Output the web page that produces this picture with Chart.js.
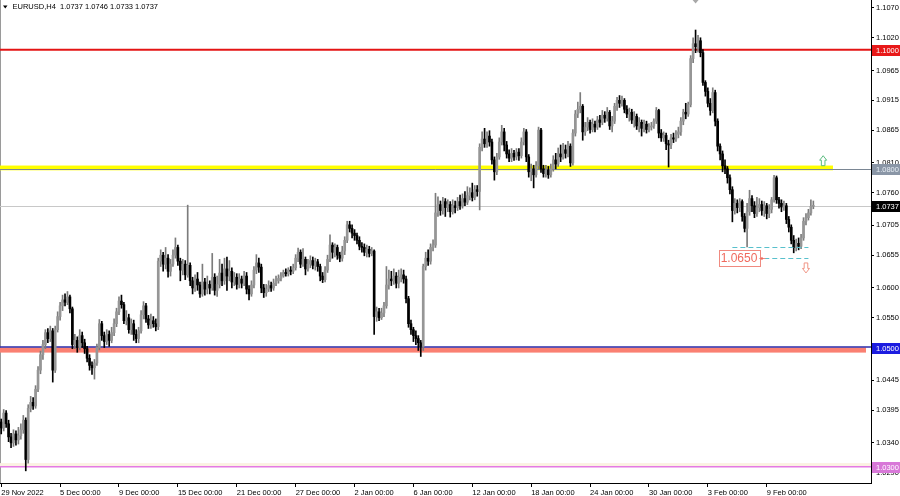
<!DOCTYPE html>
<html><head><meta charset="utf-8">
<script src="https://cdn.jsdelivr.net/npm/chart.js@4.4.1/dist/chart.umd.min.js"></script>
<style>html,body{margin:0;padding:0;background:#fff;overflow:hidden}</style>
</head><body><canvas id="c" width="900" height="496"></canvas>
<script>
// EURUSD H4 candles, values in pips above 1.0000 (price = 1 + pips / 10000)
const opens = [375,365,390,372,350,340,355,345,352,362,378,312,398,408,402,430,462,488,505,525,515,528,462,530,552,570,580,576,585,565,505,512,500,520,508,498,482,470,466,474,500,540,520,510,522,512,525,540,560,578,572,545,550,530,540,522,515,528,555,570,548,538,545,540,535,645,655,640,650,628,640,655,668,645,630,640,622,638,612,600,615,605,590,610,598,606,600,618,596,606,625,612,632,620,628,610,618,606,615,608,620,598,590,605,630,642,635,600,592,598,604,600,608,612,616,620,626,624,630,628,634,650,660,640,648,632,640,646,638,644,636,620,614,630,648,672,660,668,655,650,662,680,706,700,692,688,680,670,668,660,665,658,662,552,560,550,558,570,605,615,612,620,608,618,622,615,582,540,530,520,515,508,502,636,650,645,668,672,726,740,730,745,735,740,728,738,735,745,738,750,744,755,760,752,765,762,836,850,842,855,845,815,795,820,845,862,840,825,818,826,820,828,822,845,862,820,795,800,790,805,865,800,792,798,790,800,815,808,825,820,832,826,838,810,860,892,900,905,862,870,878,866,875,870,882,878,890,885,895,872,880,905,915,910,915,900,892,895,882,888,872,878,868,875,866,870,872,880,898,860,852,856,842,840,852,850,858,862,880,895,892,908,985,1010,1005,1015,995,945,930,910,898,928,880,838,825,805,800,785,765,730,742,735,745,720,700,728,750,738,725,735,740,730,738,725,732,748,785,748,742,736,738,715,702,680,668,675,670,684,712,718,726,737];
const highs = [380,396,394,378,356,362,360,366,372,386,382,404,418,416,436,468,494,512,530,532,536,532,536,560,576,588,590,594,588,568,522,518,530,526,514,502,488,476,480,506,547,544,526,530,528,534,548,566,585,588,576,562,556,548,546,530,534,562,577,574,554,556,552,548,650,664,660,668,656,648,664,684,672,650,648,646,739,642,618,622,626,610,640,616,620,612,658,624,620,648,640,650,652,646,634,626,624,624,620,628,626,604,612,636,656,650,640,606,606,612,610,615,620,622,626,630,632,634,636,640,656,667,664,666,652,648,654,652,650,648,640,626,636,655,689,676,674,672,660,670,686,712,712,706,698,692,686,676,674,672,670,668,664,568,566,566,576,636,630,628,632,626,630,632,630,620,586,546,534,528,520,512,640,660,664,674,681,759,753,746,752,750,748,745,748,746,752,756,758,762,770,768,776,772,772,842,862,868,862,864,850,820,826,852,873,868,846,832,834,831,834,834,852,868,866,824,808,806,812,870,868,806,806,804,808,822,826,835,840,843,840,846,842,866,898,912,928,908,878,886,882,884,880,888,890,898,896,903,898,888,910,920,923,922,918,906,902,900,896,892,886,882,882,880,876,878,884,903,900,866,862,860,848,858,860,864,870,886,900,910,912,990,1020,1033,1024,1020,1000,948,936,918,936,932,884,842,830,815,804,790,770,750,748,750,748,725,742,764,755,745,752,750,746,745,742,740,752,789,788,752,748,746,742,720,706,688,682,684,690,718,725,732,748,746];
const lows = [355,360,366,342,332,334,336,338,346,356,293,306,392,396,398,426,456,480,498,508,510,442,458,526,546,562,570,572,558,498,498,492,496,500,490,476,462,455,447,470,496,512,500,505,502,508,520,535,555,566,540,538,524,522,512,508,508,524,548,542,532,532,534,528,530,636,628,632,618,620,636,650,638,612,622,614,618,604,590,594,596,584,586,588,590,590,596,588,586,600,604,606,596,612,600,604,598,600,600,604,590,580,586,600,624,626,592,584,586,594,594,596,604,608,612,618,620,620,622,624,630,644,634,636,622,628,634,632,630,628,612,609,610,626,644,650,652,648,644,645,656,676,694,684,680,674,664,660,654,652,652,654,522,544,545,547,552,566,598,604,606,600,600,610,608,575,534,522,510,505,495,485,495,630,638,640,662,668,720,722,724,720,728,719,724,726,730,732,734,738,740,748,746,748,754,731,830,836,836,838,808,781,790,816,840,830,818,812,812,814,815,814,818,840,812,786,780,768,786,800,794,786,786,784,786,796,800,804,812,816,818,820,804,806,855,886,894,848,856,864,860,862,862,866,870,874,878,880,866,862,876,898,903,905,894,886,880,876,870,866,862,855,862,860,862,865,868,876,852,846,846,832,803,834,844,846,852,856,874,884,888,904,978,995,996,988,940,922,904,890,894,872,830,815,795,792,776,758,711,724,726,728,712,694,669,722,728,718,720,728,722,720,716,718,726,744,742,734,728,730,708,694,674,659,662,664,666,680,706,714,722,733];
const closes = [365,390,372,350,340,355,345,352,362,378,312,398,408,402,430,462,488,505,525,515,528,462,530,552,570,580,576,585,565,505,512,500,520,508,498,482,470,466,474,500,540,520,510,522,512,525,540,560,578,572,545,550,530,540,522,515,528,555,570,548,538,545,540,535,645,655,640,650,628,640,655,668,645,630,640,622,638,612,600,615,605,590,610,598,606,600,618,596,606,625,612,632,620,628,610,618,606,615,608,620,598,590,605,630,642,635,600,592,598,604,600,608,612,616,620,626,624,630,628,634,650,660,640,648,632,640,646,638,644,636,620,614,630,648,672,660,668,655,650,662,680,706,700,692,688,680,670,668,660,665,658,662,552,560,550,558,570,605,615,612,620,608,618,622,615,582,540,530,520,515,508,502,636,650,645,668,672,726,740,730,745,735,740,728,738,735,745,738,750,744,755,760,752,765,762,836,850,842,855,845,815,795,820,845,862,840,825,818,826,820,828,822,845,862,820,795,800,790,805,865,800,792,798,790,800,815,808,825,820,832,826,838,810,860,892,900,905,862,870,878,866,875,870,882,878,890,885,895,872,880,905,915,910,915,900,892,895,882,888,872,878,868,875,866,870,872,880,898,860,852,856,842,840,852,850,858,862,880,895,892,908,985,1010,1005,1015,995,945,930,910,898,928,880,838,825,805,800,785,765,730,742,735,745,720,700,728,750,738,725,735,740,730,738,725,732,748,785,748,742,736,738,715,702,680,668,675,670,684,712,718,726,737,737];

const slotCount = 355; // bar slots incl. empty right shift
const xTickBars = [0,24,48,72,96,120,144,168,192,216,240,264,288,312];
const xTickTexts = ['29 Nov 2022','5 Dec 00:00','9 Dec 00:00','15 Dec 00:00','21 Dec 00:00','27 Dec 00:00','2 Jan 00:00','6 Jan 00:00','12 Jan 00:00','18 Jan 00:00','24 Jan 00:00','30 Jan 00:00','3 Feb 00:00','9 Feb 00:00'];
const yTickValues = [1.1070,1.1020,1.0965,1.0915,1.0865,1.0810,1.0760,1.0705,1.0655,1.0600,1.0550,1.0500,1.0445,1.0395,1.0340,1.0290];
const yMin = 1.02726, yMax = 1.10834;

const resistanceHigh = 1.1000, resistanceMid = 1.0800, currentPrice = 1.0737;
const supportMid = 1.0500, supportLow = 1.0300;
const targetLevel = 1.0650, priorLow = 1.0669;
const titleText = 'EURUSD,H4  1.0737 1.0746 1.0733 1.0737';

const toPrice = v => 1 + v / 10000;
const isUp = closes.map((c, i) => c >= opens[i]);
const labels = Array.from({length: slotCount}, (_, i) => i);
const tickMap = new Map(xTickBars.map((b, i) => [b, xTickTexts[i]]));
const FONT = '"Liberation Sans", Arial, sans-serif';

const overlay = {
  id: 'overlay',
  beforeDatasetsDraw(chart) {
    const {ctx, chartArea: a, scales: {x, y}} = chart;
    const Y = v => y.getPixelForValue(v);
    ctx.save();
    ctx.fillStyle = '#9a9a9a'; ctx.fillRect(0, 0, 1, a.bottom);
    ctx.fillStyle = '#fbf1e2';
    ctx.fillRect(a.left, Y(supportLow + 0.0006), a.right - a.left, Y(supportLow) - Y(supportLow + 0.0006));
    ctx.strokeStyle = '#e47ae4'; ctx.lineWidth = 1.5;
    ctx.beginPath(); ctx.moveTo(a.left, Y(supportLow)); ctx.lineTo(a.right, Y(supportLow)); ctx.stroke();
    ctx.fillStyle = '#fa8072';
    ctx.fillRect(a.left, Y(supportMid), a.right - 5 - a.left, Y(supportMid - 0.00085) - Y(supportMid));
    ctx.strokeStyle = '#2a2aa8'; ctx.lineWidth = 1.5;
    ctx.beginPath(); ctx.moveTo(a.left, Y(supportMid) - 0.5); ctx.lineTo(a.right, Y(supportMid) - 0.5); ctx.stroke();
    ctx.strokeStyle = '#c8c8c8'; ctx.lineWidth = 1;
    ctx.beginPath(); ctx.moveTo(a.left, Math.round(Y(currentPrice)) + 0.5); ctx.lineTo(a.right, Math.round(Y(currentPrice)) + 0.5); ctx.stroke();
    ctx.fillStyle = '#ffff00';
    const yb = x.getPixelForValue(339);
    ctx.fillRect(a.left, Y(resistanceMid + 0.00055), yb - a.left, Y(resistanceMid - 0.00025) - Y(resistanceMid + 0.00055));
    ctx.strokeStyle = '#7a8694'; ctx.lineWidth = 1;
    ctx.beginPath(); ctx.moveTo(a.left, Math.round(Y(resistanceMid)) + 0.5); ctx.lineTo(a.right, Math.round(Y(resistanceMid)) + 0.5); ctx.stroke();
    ctx.strokeStyle = '#e41414'; ctx.lineWidth = 2;
    ctx.beginPath(); ctx.moveTo(a.left, Y(resistanceHigh)); ctx.lineTo(a.right, Y(resistanceHigh)); ctx.stroke();
    ctx.restore();
  },
  afterDraw(chart) {
    const {ctx, chartArea: a, scales: {x, y}} = chart;
    const Y = v => y.getPixelForValue(v);
    ctx.save();
    ctx.strokeStyle = '#58c0cc'; ctx.lineWidth = 1; ctx.setLineDash([5, 3]);
    ctx.beginPath();
    ctx.moveTo(x.getPixelForValue(298), Math.round(Y(priorLow)) + 0.5); ctx.lineTo(x.getPixelForValue(329), Math.round(Y(priorLow)) + 0.5);
    ctx.moveTo(x.getPixelForValue(311), Math.round(Y(targetLevel)) + 0.5); ctx.lineTo(x.getPixelForValue(329), Math.round(Y(targetLevel)) + 0.5);
    ctx.stroke(); ctx.setLineDash([]);
    const bx2 = x.getPixelForValue(309), ty = Y(targetLevel);
    ctx.font = '12px ' + FONT;
    const tw = ctx.measureText('1.0650').width;
    const bx1 = bx2 - tw - 4;
    ctx.fillStyle = '#fff'; ctx.fillRect(bx1, ty - 8, bx2 - bx1, 16);
    ctx.strokeStyle = '#f08a80'; ctx.strokeRect(Math.round(bx1) + 0.5, Math.round(ty - 8) + 0.5, Math.round(bx2 - bx1), 16);
    ctx.fillStyle = '#f06a5e'; ctx.textBaseline = 'middle'; ctx.textAlign = 'left';
    ctx.fillText('1.0650', bx1 + 2, ty + 0.5);
    ctx.strokeStyle = '#f08a80';
    ctx.beginPath(); ctx.moveTo(bx2, Math.round(ty) + 0.5); ctx.lineTo(bx2 + 6, Math.round(ty) + 0.5); ctx.stroke();
    ctx.beginPath(); ctx.arc(bx2 + 2.5, Math.round(ty) + 0.5, 1.3, 0, Math.PI * 2); ctx.fill();
    const arrow = (cx, top, dir, color) => {
      const w = 3.5, sw = 1.8, h = 10, hh = 4.5;
      ctx.strokeStyle = color; ctx.lineWidth = 1;
      ctx.beginPath();
      if (dir < 0) {
        ctx.moveTo(cx, top); ctx.lineTo(cx + w, top + hh); ctx.lineTo(cx + sw, top + hh); ctx.lineTo(cx + sw, top + h);
        ctx.lineTo(cx - sw, top + h); ctx.lineTo(cx - sw, top + hh); ctx.lineTo(cx - w, top + hh); ctx.closePath();
      } else {
        ctx.moveTo(cx, top + h); ctx.lineTo(cx + w, top + h - hh); ctx.lineTo(cx + sw, top + h - hh); ctx.lineTo(cx + sw, top);
        ctx.lineTo(cx - sw, top); ctx.lineTo(cx - sw, top + h - hh); ctx.lineTo(cx - w, top + h - hh); ctx.closePath();
      }
      ctx.stroke();
    };
    arrow(x.getPixelForValue(335), Y(1.0822), -1, '#5cbc80');
    arrow(x.getPixelForValue(328), Y(1.0642), 1, '#f09484');
    const mx = x.getPixelForValue(283);
    ctx.fillStyle = '#a8a8a8';
    ctx.beginPath(); ctx.moveTo(mx - 3, 0); ctx.lineTo(mx + 3, 0); ctx.lineTo(mx, 3.5); ctx.closePath(); ctx.fill();
    ctx.font = '7.5px ' + FONT;
    const tag = (v, bg, fg) => {
      const py = Y(v);
      ctx.fillStyle = bg; ctx.fillRect(a.right + 1, Math.round(py) - 5, 900 - a.right - 1, 11);
      ctx.fillStyle = fg; ctx.textBaseline = 'middle'; ctx.textAlign = 'left';
      ctx.fillText(v.toFixed(4), a.right + 5, Math.round(py) + 0.5);
    };
    tag(resistanceHigh, '#e81818', '#ffffff');
    tag(resistanceMid, '#8a96a6', '#e8eef4');
    tag(currentPrice, '#000000', '#ffffff');
    tag(supportMid, '#1c1ce0', '#ffffff');
    tag(supportLow, '#d878d8', '#ffffff');
    ctx.fillStyle = '#000';
    ctx.beginPath(); ctx.moveTo(3, 5.5); ctx.lineTo(7.5, 5.5); ctx.lineTo(5.25, 8.5); ctx.closePath(); ctx.fill();
    ctx.fillText(titleText, 12.5, 7);
    ctx.restore();
  }
};

new Chart(document.getElementById('c'), {
  type: 'bar',
  data: {
    labels,
    datasets: [
      {
        label: 'body', order: 0, grouped: false,
        data: closes.map((c, i) => [toPrice(opens[i]), toPrice(c)]),
        backgroundColor: isUp.map(u => u ? '#969696' : '#000000'),
        barThickness: 2, minBarLength: 1, borderWidth: 0
      },
      {
        label: 'wick', order: 1, grouped: false,
        data: closes.map((c, i) => [toPrice(lows[i]), toPrice(highs[i])]),
        backgroundColor: isUp.map(u => u ? '#7c7c7c' : '#000000'),
        barThickness: 1, borderWidth: 0
      }
    ]
  },
  options: {
    responsive: false, animation: false, events: [],
    layout: {padding: 0},
    plugins: {legend: {display: false}, tooltip: {enabled: false}},
    scales: {
      x: {
        type: 'category', offset: true,
        grid: {display: true, offset: false, drawOnChartArea: false, tickLength: 4, color: '#000'},
        border: {display: true, color: '#000', width: 1},
        ticks: {
          autoSkip: false, maxRotation: 0, minRotation: 0, align: 'start', padding: 1,
          color: '#000', font: {family: FONT, size: 7.5},
          callback: (v, i) => tickMap.has(i) ? tickMap.get(i) : null
        },
        afterFit(s) { s.height = 13; s.paddingLeft = 0; s.paddingRight = 0; }
      },
      y: {
        type: 'linear', position: 'right', min: yMin, max: yMax,
        grid: {display: true, drawOnChartArea: false, tickLength: 3, color: '#000'},
        border: {display: true, color: '#000', width: 1},
        ticks: {color: '#000', padding: 2, font: {family: FONT, size: 7.5}, callback: v => v.toFixed(4)},
        afterBuildTicks(s) { s.ticks = yTickValues.map(v => ({value: v})); },
        afterFit(s) { s.width = 29; s.paddingTop = 0; s.paddingBottom = 0; }
      }
    }
  },
  plugins: [overlay]
});
</script>
</body></html>
